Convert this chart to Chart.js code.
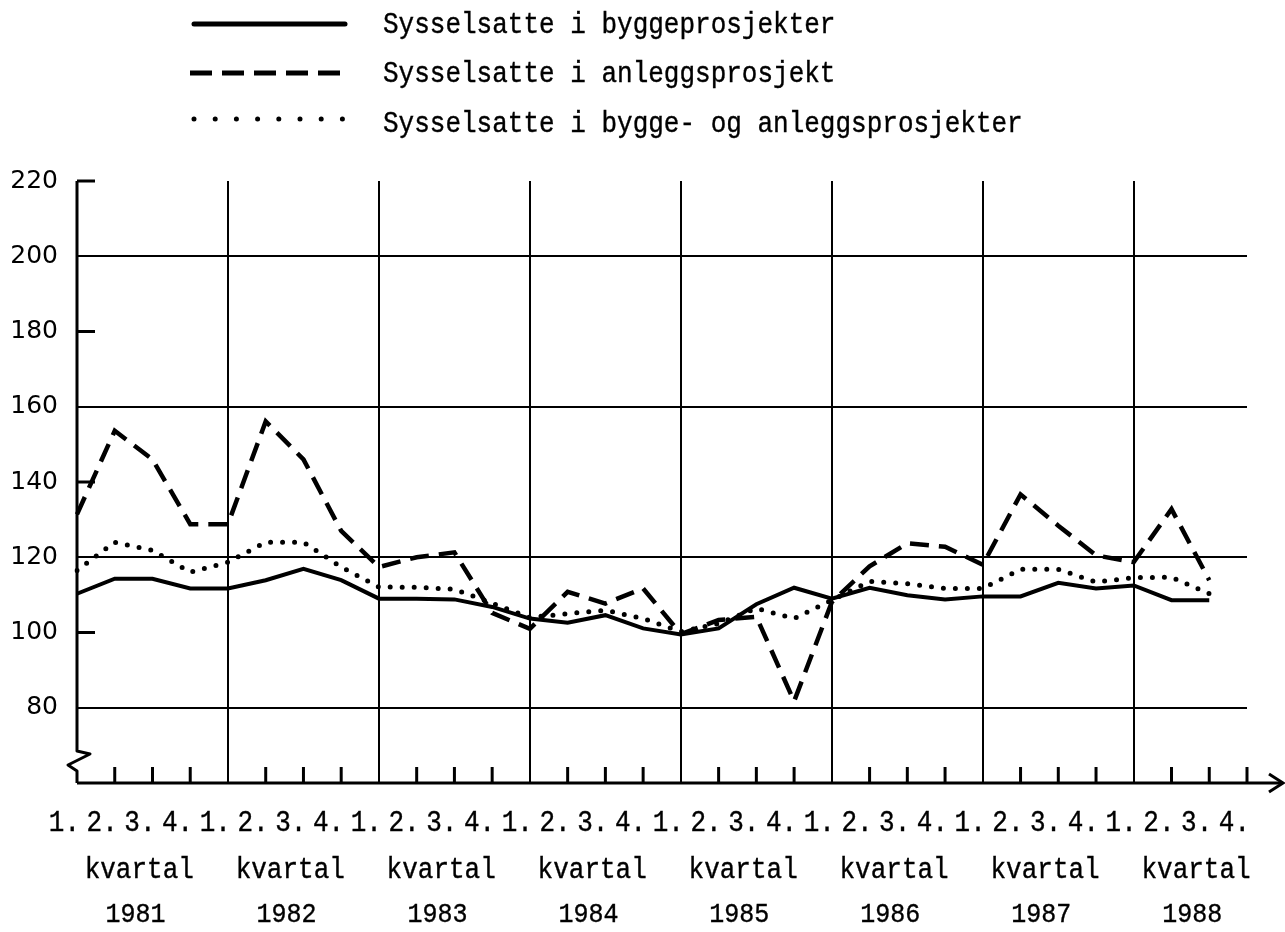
<!DOCTYPE html>
<html>
<head>
<meta charset="utf-8">
<script src="https://cdn.jsdelivr.net/npm/chart.js@4.4.0/dist/chart.umd.min.js"></script>
<style>
  html, body { margin: 0; padding: 0; background: #fff; }
  #wrap { width: 1285px; height: 932px; }
</style>
</head>
<body>
<div id="wrap"><canvas id="chart"></canvas></div>
<script>
// quarterly index values, 1. kvartal 1981 .. 3. kvartal 1988
const years = ['1981', '1982', '1983', '1984', '1985', '1986', '1987', '1988'];
const quarterLabels = ['1.', '2.', '3.', '4.'];
const periodWord = 'kvartal';

const byggeValues = [
  110.3, 114.3, 114.3, 111.7,
  111.7, 113.9, 116.9, 113.9,
  109.0, 109.0, 108.8, 106.8,
  103.7, 102.6, 104.6, 101.1,
  99.5, 101.1, 107.5, 111.9,
  109.0, 111.9, 109.9, 108.8,
  109.6, 109.6, 113.2, 111.7,
  112.5, 108.6, 108.6
];
const anleggValues = [
  131.4, 153.6, 146.0, 128.8,
  128.8, 156.1, 146.0, 127.0,
  117.4, 120.0, 121.3, 105.2,
  101.0, 110.8, 107.7, 111.7,
  99.6, 103.3, 104.2, 81.7,
  108.1, 117.6, 123.7, 122.8,
  118.0, 136.7, 128.4, 120.5,
  118.7, 132.8, 113.9
];
const totalValues = [
  116.5, 124.0, 121.8, 116.0,
  118.7, 124.0, 124.0, 117.4,
  112.1, 112.0, 111.5, 107.8,
  104.0, 105.0, 105.9, 103.7,
  100.2, 102.4, 106.4, 103.7,
  108.6, 113.6, 113.0, 111.7,
  111.7, 116.8, 116.8, 113.4,
  114.6, 114.7, 110.3
];
const seriesNames = [
  'Sysselsatte i byggeprosjekter',
  'Sysselsatte i anleggsprosjekt',
  'Sysselsatte i bygge- og anleggsprosjekter'
];
const yMin = 60, yMax = 220, yStep = 20;

const labels = years.flatMap(() => quarterLabels);
const MONO = '"Liberation Mono", monospace';

// typewriter-ish text: a little taller than Liberation Mono
function typeText(ctx, str, x, y, size, align) {
  ctx.save();
  ctx.translate(x, y);
  ctx.scale(1, 1.12);
  ctx.font = size + 'px ' + MONO;
  ctx.textAlign = align;
  ctx.textBaseline = 'middle';
  ctx.fillStyle = '#000';
  ctx.strokeStyle = '#000';
  ctx.lineWidth = 0.35;
  ctx.fillText(str, 0, 0);
  ctx.strokeText(str, 0, 0);
  ctx.restore();
}

// axes, break mark, arrow, small ticks, legend and the label rows
const decor = {
  id: 'decor',
  beforeDatasetsDraw(chart) {
    const {ctx, chartArea: a, scales: {x, y}} = chart;
    ctx.save();
    ctx.strokeStyle = '#000';
    ctx.lineWidth = 3;
    ctx.lineCap = 'butt';

    // short marks on y axis where there is no grid line
    y.ticks.forEach(t => {
      if (t.value === yMin || t.value % 40 === 0) return;
      const py = y.getPixelForValue(t.value);
      ctx.beginPath(); ctx.moveTo(a.left, py); ctx.lineTo(a.left + 18, py); ctx.stroke();
    });

    // quarter ticks on x axis
    labels.forEach((l, i) => {
      if (i % 4 === 0) return;
      const px = x.getPixelForValue(i);
      ctx.beginPath(); ctx.moveTo(px, a.bottom); ctx.lineTo(px, a.bottom - 16); ctx.stroke();
    });

    // x axis with arrow
    ctx.beginPath();
    ctx.moveTo(a.left, a.bottom);
    ctx.lineTo(a.right + 35, a.bottom);
    ctx.stroke();
    ctx.beginPath();
    ctx.moveTo(a.right + 22, a.bottom - 9);
    ctx.lineTo(a.right + 36, a.bottom);
    ctx.lineTo(a.right + 22, a.bottom + 9);
    ctx.stroke();

    // y axis with break
    ctx.lineJoin = 'round';
    ctx.beginPath();
    ctx.moveTo(a.left, a.top);
    ctx.lineTo(a.left, a.bottom - 32);
    ctx.lineTo(a.left + 13, a.bottom - 29);
    ctx.lineTo(a.left - 9, a.bottom - 18);
    ctx.lineTo(a.left, a.bottom - 12);
    ctx.lineTo(a.left, a.bottom);
    ctx.stroke();
    ctx.restore();
  },
  afterDraw(chart) {
    const {ctx, chartArea: a, scales: {x}} = chart;

    // legend
    const rowsY = [24, 73, 119];
    const legendDash = [[], [22, 10], [0, 21.2]];
    chart.data.datasets.forEach((ds, i) => {
      ctx.save();
      ctx.strokeStyle = '#000';
      ctx.lineWidth = 5;
      ctx.lineCap = i === 1 ? 'butt' : 'round';
      ctx.setLineDash(legendDash[i]);
      ctx.beginPath();
      ctx.moveTo(i === 1 ? 190 : 194, rowsY[i]);
      ctx.lineTo(345, rowsY[i]);
      ctx.stroke();
      ctx.restore();
      typeText(ctx, ds.label, 383, [25, 74, 124][i], 26, 'left');
    });

    // quarter labels
    labels.forEach((l, i) => {
      typeText(ctx, l, x.getPixelForValue(i) + 3, a.bottom + 40, 26, 'right');
    });

    // kvartal / year rows
    years.forEach((yr, k) => {
      typeText(ctx, periodWord, x.getPixelForValue(k * 4 + 1.65), a.bottom + 87, 26, 'center');
      typeText(ctx, yr, x.getPixelForValue(k * 4 + 1.55), a.bottom + 132, 25, 'center');
    });
  }
};

new Chart(document.getElementById('chart'), {
  type: 'line',
  data: {
    labels: labels,
    datasets: [
      {
        label: seriesNames[0],
        data: byggeValues,
        borderColor: '#000',
        borderWidth: 4,
        pointRadius: 0,
        tension: 0,
        fill: false
      },
      {
        label: seriesNames[1],
        data: anleggValues,
        borderColor: '#000',
        borderWidth: 4.5,
        borderDash: [19, 10],
        pointRadius: 0,
        tension: 0,
        fill: false
      },
      {
        label: seriesNames[2],
        data: totalValues,
        borderColor: '#000',
        borderWidth: 5,
        borderDash: [0, 12],
        borderCapStyle: 'round',
        pointRadius: 0,
        tension: 0,
        fill: false
      }
    ]
  },
  options: {
    responsive: true,
    maintainAspectRatio: false,
    animation: false,
    layout: { padding: { top: 181, right: 38, left: 0, bottom: 0 } },
    plugins: {
      legend: { display: false },
      tooltip: { enabled: false }
    },
    scales: {
      x: {
        type: 'category',
        offset: false,
        border: { display: false },
        grid: {
          drawTicks: false,
          lineWidth: 2,
          color: c => (c.index % 4 === 0 && c.index > 0) ? '#000' : 'rgba(0,0,0,0)'
        },
        ticks: { display: false, autoSkip: false, maxRotation: 0 },
        afterFit: s => { s.height = 932 - 783; }
      },
      y: {
        min: yMin,
        max: yMax,
        border: { display: false },
        grid: {
          drawTicks: false,
          lineWidth: 2,
          color: c => (c.tick.value % 40 === 0 && c.tick.value !== yMin) ? '#000' : 'rgba(0,0,0,0)'
        },
        ticks: {
          stepSize: yStep,
          padding: 19,
          color: '#000',
          font: { family: '"DejaVu Sans", sans-serif', size: 25 },
          callback: v => v === yMin ? '' : v
        },
        afterFit: s => { s.width = 77; }
      }
    }
  },
  plugins: [decor]
});
</script>
</body>
</html>
